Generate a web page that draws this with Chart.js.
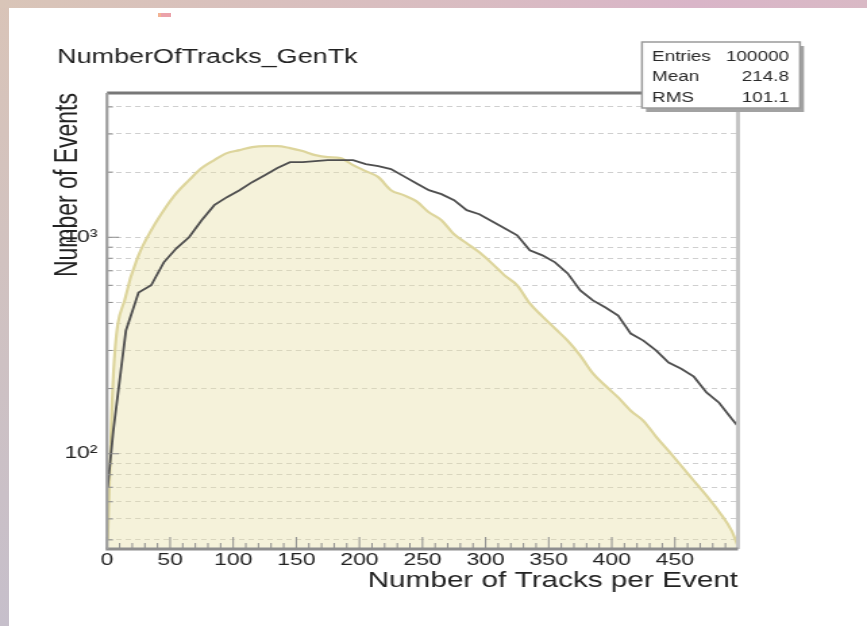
<!DOCTYPE html>
<html><head><meta charset="utf-8">
<script src="https://cdn.jsdelivr.net/npm/chart.js@4.4.0/dist/chart.umd.min.js"></script>
<style>
html,body{margin:0;padding:0;width:867px;height:626px;overflow:hidden;}
body{position:relative;background:linear-gradient(180deg,#d9c4b8 0%,#c6bfcb 100%);}
#topstrip{position:absolute;left:0;top:0;width:867px;height:8px;background:linear-gradient(90deg,#d9c5b8 0%,#d9bcc2 55%,#d9b5c8 80%,#d9b9c5 100%);}
#page{position:absolute;left:9px;top:8px;right:0;bottom:0;background:#fff;}
#mark{position:absolute;left:158px;top:13px;width:13px;height:4px;background:linear-gradient(90deg,#f2b394 0 25%,#eba2aa 25% 100%);}
#c{position:absolute;left:0;top:0;}
</style></head>
<body>
<div id="topstrip"></div><div id="page"></div><div id="mark"></div>
<canvas id="c" width="642" height="626" style="width:867px;height:626px"></canvas>
<script>
// ---- data ----
const trackBins = [0.5, 5, 15, 25, 35, 45, 55, 65, 75, 85, 95, 105, 115, 125, 135, 145, 155, 165, 175, 185, 195,
  205, 215, 225, 235, 245, 255, 265, 275, 285, 295, 305, 315, 325, 335, 345, 355, 365, 375, 385, 395,
  405, 415, 425, 435, 445, 455, 465, 475, 485, 495, 499.5];
const genTkCounts = [40, 230, 539, 825, 1077, 1334, 1599, 1836, 2087, 2273, 2448,
  2528, 2610, 2638, 2638, 2582, 2502, 2397, 2346, 2321, 2154,
  2021, 1896, 1650, 1565, 1468, 1305, 1199, 1032, 938, 852,
  758, 667, 600, 495, 431, 379, 333, 284, 235, 206,
  182, 158, 142, 120, 103, 88, 75, 64, 54, 44, 38];
const recoCounts = [70, 128, 371, 556, 600, 766, 889, 1000, 1199, 1407, 1532,
  1650, 1797, 1936, 2087, 2224, 2224, 2248, 2273, 2273, 2273,
  2178, 2132, 2065, 1916, 1778, 1650, 1582, 1484, 1334, 1278,
  1186, 1101, 1021, 871, 825, 766, 681, 568, 511, 474,
  435, 359, 333, 300, 264, 247, 227, 192, 172, 145, 135];
const xTickValues = [0, 50, 100, 150, 200, 250, 300, 350, 400, 450];
const xTickLabels = ['0', '50', '100', '150', '200', '250', '300', '350', '400', '450'];
const yGridValues = [40, 50, 60, 70, 80, 90, 100, 200, 300, 400, 500, 600, 700, 800, 900, 1000, 2000, 3000, 4000];
const yTickValues = [100, 1000];
const yTickLabels = ['10²', '10³'];
const xRange = [0, 500];
const yRange = [36.3, 4640];
const histTitle = 'NumberOfTracks_GenTk';
const xTitle = 'Number of Tracks per Event';
const yTitle = 'Number of Events';
const statsLabels = ['Entries', 'Mean', 'RMS'];
const statsValues = ['100000', '214.8', '101.1'];

const SX = 867 / 642; // horizontal stretch of the canvas
const cx = v => v / SX;

const decorations = {
  id: 'decorations',
  afterDatasetsDraw(chart) {
    const {ctx, chartArea: a, scales: {x, y}} = chart;
    ctx.save();
    // inward tick marks on x axis
    ctx.strokeStyle = '#8c8c8c'; ctx.lineWidth = 1;
    for (let v = xRange[0]; v <= xRange[1]; v += 10) {
      const px = x.getPixelForValue(v);
      const len = (v % 50 === 0) ? 12 : 6;
      ctx.beginPath(); ctx.moveTo(px, a.bottom); ctx.lineTo(px, a.bottom - len); ctx.stroke();
    }
    // inward tick marks on y axis
    yGridValues.forEach(v => {
      const py = y.getPixelForValue(v);
      const len = yTickValues.includes(v) ? cx(12) : cx(6);
      ctx.beginPath(); ctx.moveTo(a.left, py); ctx.lineTo(a.left + len, py); ctx.stroke();
    });
    // frame
    ctx.lineWidth = 3; ctx.strokeStyle = '#777';
    ctx.beginPath(); ctx.moveTo(a.left, a.top); ctx.lineTo(a.right, a.top); ctx.stroke();
    ctx.strokeStyle = '#c4c4c4'; ctx.lineWidth = 3;
    ctx.beginPath(); ctx.moveTo(a.right, a.top); ctx.lineTo(a.right, a.bottom); ctx.stroke();
    ctx.strokeStyle = '#8e8e8e'; ctx.lineWidth = 3;
    ctx.beginPath(); ctx.moveTo(a.left - 1, a.bottom); ctx.lineTo(a.right, a.bottom); ctx.stroke();
    ctx.strokeStyle = '#9e9e9e'; ctx.lineWidth = 2.2;
    ctx.beginPath(); ctx.moveTo(a.left, a.top); ctx.lineTo(a.left, a.bottom); ctx.stroke();

    // histogram title
    ctx.fillStyle = '#222';
    ctx.font = '20px "Liberation Sans", Arial, sans-serif';
    ctx.textAlign = 'left'; ctx.textBaseline = 'alphabetic';
    ctx.fillText(histTitle, cx(57), 63);

    // stats box
    const bx = cx(642), by = 42, bw = cx(800) - cx(642), bh = 66;
    ctx.fillStyle = '#a2a2a2';
    ctx.fillRect(bx + cx(4), by + 4, bw, bh);
    ctx.fillStyle = '#fff';
    ctx.fillRect(bx, by, bw, bh);
    ctx.strokeStyle = '#9a9a9a'; ctx.lineWidth = 1.5;
    ctx.strokeRect(bx, by, bw, bh);
    ctx.fillStyle = '#2a2a2a';
    ctx.font = '14px "Liberation Sans", Arial, sans-serif';
    ctx.textBaseline = 'middle';
    const rows = [57, 77, 98];
    statsLabels.forEach((t, i) => {
      ctx.textAlign = 'left'; ctx.fillText(t, cx(652), rows[i]);
      ctx.textAlign = 'right'; ctx.fillText(statsValues[i], cx(789), rows[i]);
    });
    ctx.restore();
  }
};

new Chart(document.getElementById('c'), {
  type: 'line',
  data: {
    datasets: [
      {
        label: 'reco',
        data: trackBins.map((b, i) => ({x: b, y: recoCounts[i]})),
        borderColor: '#4f4f4f',
        borderWidth: 1.8,
        pointRadius: 0,
        fill: false,
        tension: 0
      },
      {
        label: 'GenTk',
        data: trackBins.map((b, i) => ({x: b, y: genTkCounts[i]})),
        borderColor: '#ddd59c',
        borderWidth: 2.2,
        backgroundColor: 'rgba(232,224,168,0.42)',
        pointRadius: 0,
        fill: 'start',
        cubicInterpolationMode: 'monotone'
      }
    ]
  },
  options: {
    responsive: false,
    animation: false,
    devicePixelRatio: 1,
    layout: {padding: {left: 0, top: 93, right: 642 - cx(738), bottom: 27}},
    plugins: {legend: {display: false}, tooltip: {enabled: false}, title: {display: false}},
    scales: {
      x: {
        type: 'linear', min: xRange[0], max: xRange[1],
        afterBuildTicks: s => { s.ticks = xTickValues.map(v => ({value: v})); },
        afterFit: s => { s.height = 50; },
        grid: {display: false, drawTicks: false},
        border: {display: false},
        ticks: {
          autoSkip: false, maxRotation: 0, padding: 1, color: '#222',
          font: {family: '"Liberation Sans", Arial, sans-serif', size: 17},
          callback: v => { const i = xTickValues.indexOf(v); return i >= 0 ? xTickLabels[i] : ''; }
        },
        title: {
          display: true, text: xTitle, align: 'end', color: '#222',
          font: {family: '"Liberation Sans", Arial, sans-serif', size: 22},
          padding: {top: 0, bottom: 5.3}
        }
      },
      y: {
        type: 'logarithmic', min: yRange[0], max: yRange[1],
        afterBuildTicks: s => { s.ticks = yGridValues.map(v => ({value: v})); },
        afterFit: s => { s.width = cx(107); },
        grid: {color: 'rgba(140,140,140,0.42)', lineWidth: 1, drawTicks: false},
        border: {display: false, dash: [4, 3]},
        ticks: {
          autoSkip: false, padding: 7, color: '#222',
          font: {family: '"Liberation Sans", Arial, sans-serif', size: 17},
          callback: v => { const i = yTickValues.indexOf(v); return i >= 0 ? yTickLabels[i] : ''; }
        },
        title: {
          display: true, text: yTitle, align: 'end', color: '#222',
          font: {family: '"Liberation Sans", Arial, sans-serif', size: 23},
          padding: {top: 37.3, bottom: 0}
        }
      }
    }
  },
  plugins: [decorations]
});
</script>
</body></html>
